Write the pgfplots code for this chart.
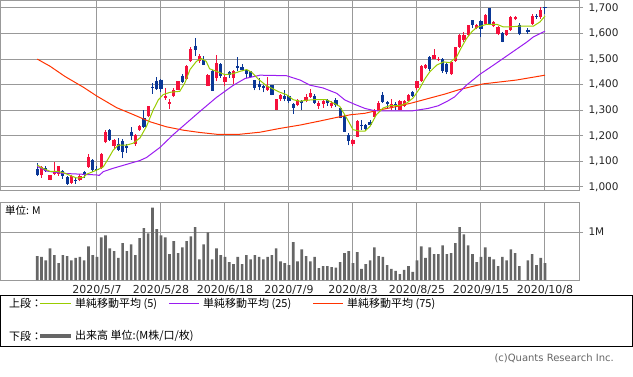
\documentclass[border=0pt]{standalone}
\usepackage{fontspec}
\setmainfont{DejaVu Sans}
\newfontfamily\cjk{Noto Sans CJK JP}
\usepackage{pgfplots}
\usepackage{pgfplotstable}
\pgfplotsset{compat=1.18}
\definecolor{gridc}{HTML}{999999}
\definecolor{upc}{HTML}{F5103C}
\definecolor{dnc}{HTML}{0A3796}
\definecolor{mafive}{HTML}{99CC00}
\definecolor{matwf}{HTML}{9A1CF0}
\definecolor{masvf}{HTML}{FF3300}
\definecolor{volc}{HTML}{666666}

\pgfplotstableread{
x o h l c
1 1045 1082 1036 1078
3 1029 1048 1026 1046
4 1052 1096 1045 1061
5 1051 1083 1042 1081
8 1016 1045 1012 1042
10 1029 1050 1022 1044
12 1078 1130 1075 1117
15 1074 1133 1072 1128
16 1175 1222 1170 1214
18 1159 1187 1150 1185
23 1169 1208 1162 1205
24 1222 1243 1218 1237
26 1276 1318 1272 1315
30 1348 1387 1341 1355
31 1326 1344 1305 1331
32 1355 1387 1350 1381
33 1381 1415 1378 1413
35 1422 1477 1420 1474
36 1491 1547 1488 1540
38 1493 1521 1485 1513
40 1396 1442 1394 1439
42 1426 1517 1413 1485
44 1409 1439 1394 1430
46 1426 1459 1404 1455
54 1378 1429 1377 1396
56 1302 1344 1300 1342
57 1342 1363 1338 1361
61 1322 1344 1315 1341
63 1335 1365 1331 1352
64 1352 1383 1348 1368
66 1318 1335 1305 1328
67 1326 1341 1309 1335
69 1315 1335 1309 1328
74 1169 1188 1159 1185
75 1196 1262 1194 1259
79 1274 1305 1272 1302
80 1302 1335 1300 1328
83 1313 1345 1302 1326
85 1302 1339 1300 1335
86 1318 1341 1313 1335
87 1338 1363 1335 1361
89 1385 1416 1380 1413
90 1414 1475 1412 1473
91 1466 1482 1463 1475
93 1501 1538 1499 1514
94 1495 1508 1492 1501
97 1440 1493 1438 1490
98 1492 1549 1490 1547
99 1548 1597 1545 1593
100 1574 1606 1567 1596
101 1593 1634 1590 1632
103 1621 1638 1616 1634
105 1638 1676 1635 1674
107 1628 1648 1625 1644
108 1599 1628 1593 1625
110 1593 1614 1591 1612
111 1612 1670 1610 1666
112 1655 1670 1651 1666
116 1638 1677 1635 1670
118 1664 1705 1657 1692
}\upt

\pgfplotstableread{
x o h l c
0 1072 1094 1042 1046
2 1073 1080 1058 1064
6 1064 1068 1032 1042
7 1038 1042 1008 1012
9 1029 1035 1012 1022
11 1059 1062 1035 1048
13 1107 1110 1060 1065
14 1072 1080 1062 1066
17 1224 1226 1180 1182
19 1169 1190 1140 1146
20 1179 1188 1112 1138
21 1161 1169 1133 1154
22 1215 1233 1185 1198
25 1270 1302 1231 1233
27 1391 1407 1365 1386
28 1415 1429 1380 1383
29 1420 1424 1370 1383
34 1435 1440 1408 1411
37 1553 1583 1513 1534
39 1495 1511 1476 1478
41 1452 1456 1375 1377
43 1481 1483 1427 1433
45 1448 1452 1426 1439
47 1472 1508 1452 1464
48 1468 1481 1452 1459
49 1456 1463 1426 1443
50 1452 1455 1426 1430
51 1417 1420 1378 1387
52 1404 1426 1378 1391
53 1396 1400 1370 1387
55 1398 1400 1358 1361
58 1354 1378 1335 1344
59 1354 1361 1328 1337
60 1326 1328 1287 1309
62 1335 1341 1300 1328
65 1357 1365 1326 1328
68 1339 1345 1318 1328
70 1339 1347 1313 1322
71 1309 1311 1268 1270
72 1279 1283 1214 1216
73 1205 1211 1163 1179
76 1244 1261 1224 1237
77 1241 1248 1224 1228
78 1253 1261 1237 1242
81 1361 1372 1328 1331
82 1331 1337 1309 1326
84 1326 1331 1302 1318
88 1370 1376 1350 1354
92 1508 1512 1453 1460
95 1499 1505 1446 1453
96 1482 1486 1440 1451
102 1651 1654 1621 1632
104 1647 1651 1586 1619
106 1700 1700 1632 1635
109 1602 1604 1565 1567
113 1635 1641 1593 1597
115 1615 1620 1599 1605
117 1670 1677 1657 1664
119 1703 1705 1677 1698
}\dnt

\pgfplotstableread{
x v
0 0.50
1 0.48
2 0.41
3 0.66
4 0.52
5 0.35
6 0.52
7 0.50
8 0.41
9 0.46
10 0.48
11 0.41
12 0.70
13 0.52
14 0.48
15 0.89
16 0.93
17 0.66
18 0.60
19 0.46
20 0.77
21 0.60
22 0.74
23 0.52
24 0.87
25 1.08
26 0.97
27 1.51
28 1.06
29 0.93
30 0.89
31 0.54
32 0.81
33 0.56
34 0.68
35 0.81
36 0.91
37 1.10
38 0.43
39 0.74
40 0.99
41 0.43
42 0.66
43 0.52
44 0.48
45 0.37
46 0.33
47 0.48
48 0.33
49 0.52
50 0.43
51 0.52
52 0.48
53 0.43
54 0.48
55 0.52
56 0.66
57 0.39
58 0.35
59 0.31
60 0.79
61 0.39
62 0.64
63 0.50
64 0.39
65 0.48
66 0.25
67 0.29
68 0.29
69 0.27
70 0.26
71 0.37
72 0.56
73 0.60
74 0.35
75 0.58
76 0.23
77 0.33
78 0.41
79 0.68
80 0.50
81 0.48
82 0.31
83 0.23
84 0.19
85 0.12
86 0.21
87 0.29
88 0.17
89 0.41
90 0.70
91 0.46
92 0.68
93 0.54
94 0.54
95 0.72
96 0.54
97 0.56
98 0.77
99 1.10
100 0.95
101 0.72
102 0.54
103 0.37
104 0.48
105 0.68
106 0.48
107 0.43
108 0.29
109 0.48
110 0.41
111 0.64
112 0.56
113 0.29
115 0.41
116 0.54
117 0.31
118 0.46
119 0.35
}\volt

\begin{document}
\begin{tikzpicture}
\path[use as bounding box] (0pt,0pt) rectangle (633pt,-376pt);

\begin{axis}[
  at={(0pt,0pt)}, anchor=north west,
  scale only axis, width=579pt, height=190pt,
  xmin=-8.73, xmax=126.97, ymin=988, ymax=1731,
  axis line style={gridc, line width=1pt},
  xtick={14,29,44,59,74,89,104,119}, xticklabels={},
  ytick={1000,1100,...,1700},
  grid=major, major grid style={gridc, line width=1pt},
  ytick pos=right, yticklabel pos=right,
  xtick style={draw=none},
  ytick style={gridc, line width=1pt},
  tick align=outside, major tick length=4pt,
  yticklabel style={font=\fontsize{10.5}{12}\selectfont, text=black!85, xshift=2pt},
  /pgf/number format/1000 sep={,},
  /pgf/number format/assume math mode=true,
]
\addplot[dnc, line width=1pt, quiver={u=0, v=\thisrow{h}-\thisrow{l}}] table[x=x, y=l] {\dnt};
\addplot[dnc, line width=3.2pt, quiver={u=0, v=\thisrow{c}-\thisrow{o}}] table[x=x, y=o] {\dnt};
\addplot[upc, line width=1pt, quiver={u=0, v=\thisrow{h}-\thisrow{l}}] table[x=x, y=l] {\upt};
\addplot[upc, line width=3.2pt, quiver={u=0, v=\thisrow{c}-\thisrow{o}}] table[x=x, y=o] {\upt};

% 75-day MA
\addplot[masvf, line width=1pt] coordinates {
(0,1500) (3,1472) (6.5,1432) (10.8,1390) (14,1355) (18.6,1310) (22.5,1283) (26.4,1255) (30.3,1235) (34.2,1222) (38.1,1213) (42,1206) (47.5,1206) (52.2,1214) (56.9,1229) (61.6,1242) (66.3,1258) (70.2,1272) (73.3,1282) (76.8,1288) (79.9,1300) (83.8,1313) (87.7,1328) (91.7,1346) (95.5,1363) (99,1381) (104.5,1403) (112.3,1418) (119,1437)
};
% 25-day MA
\addplot[matwf, line width=1pt] coordinates {
(0,1080) (2.2,1062) (6.1,1053) (13.9,1047) (14.5,1045) (15.5,1060) (17.8,1073) (21.7,1092) (24,1103) (25.6,1115) (28.8,1155) (31.9,1205) (35,1250) (38.1,1295) (42,1350) (45.9,1397) (48.7,1424) (52.2,1437) (58.4,1435) (61.6,1418) (63.9,1398) (67,1387) (70.2,1366) (72.1,1340) (74.4,1323) (76.8,1307) (79.1,1298) (87.7,1297) (91.6,1307) (93.9,1317) (96.2,1336) (97.8,1352) (100.6,1398) (103.7,1440) (106.9,1476) (110.8,1521) (114.7,1566) (116.3,1587) (119,1609)
};
% 5-day MA
\addplot[mafive, line width=1pt] coordinates {
(0,1086) (1,1075) (3,1061) (4.5,1061) (6.1,1056) (7.7,1045) (9.2,1035) (10.8,1037) (11.6,1050) (13.1,1060) (14.7,1072) (15.5,1079) (16.7,1112) (17.8,1144) (19,1164) (21,1164) (22.5,1171) (24.1,1192) (25.6,1237) (27.2,1302) (28.4,1341) (29.5,1361) (31.1,1370) (33.4,1374) (34.6,1407) (35.8,1459) (37.3,1491) (38.5,1502) (39.6,1491) (40.4,1462) (42,1452) (44,1439) (45.9,1443) (47.5,1452) (49.1,1459) (50.3,1448) (51.8,1422) (53.7,1396) (55.3,1383) (56.9,1370) (58.4,1361) (60,1341) (61.6,1335) (63.1,1339) (64.7,1341) (67.8,1341) (69.4,1328) (70.9,1315) (72.5,1270) (74,1224) (75.6,1218) (76.8,1218) (78,1237) (79.5,1283) (81.1,1309) (82.7,1318) (85,1318) (86.6,1328) (88.1,1348) (89.7,1387) (90.9,1424) (92,1450) (93.6,1476) (95.2,1489) (96.7,1486) (98.3,1509) (99.5,1548) (100.6,1580) (101.8,1606) (103,1624) (105.3,1636) (107.7,1636) (109.2,1626) (110.8,1626) (113.1,1629) (116.3,1629) (117.8,1645) (119,1668)
};
\end{axis}

\begin{axis}[
  at={(0pt,-202pt)}, anchor=north west,
  scale only axis, width=579pt, height=78pt,
  xmin=-8.73, xmax=126.97, ymin=0, ymax=1.625,
  axis line style={gridc, line width=1pt},
  xtick={14,29,44,59,74,89,104,119},
  xticklabels={2020/5/7, 2020/5/28, 2020/6/18, 2020/7/9, 2020/8/3, 2020/8/25, 2020/9/15, 2020/10/8},
  ytick={1}, yticklabels={1M},
  grid=major, major grid style={gridc, line width=1pt},
  ytick pos=right, yticklabel pos=right,
  xtick style={draw=none},
  ytick style={gridc, line width=1pt},
  tick align=outside, major tick length=4pt,
  yticklabel style={font=\fontsize{10.5}{12}\selectfont, text=black!85, xshift=2pt},
  xticklabel style={font=\fontsize{11}{12}\selectfont, text=black!85, yshift=2pt},
]
\addplot[ybar, bar width=2.6pt, fill=volc, draw=none] table[x=x, y=v] {\volt};
\node[anchor=north west, font=\cjk\fontsize{10.5}{12}\selectfont, inner sep=0pt] at (rel axis cs:0,1) [xshift=5pt, yshift=-3pt] {単位: M};
\end{axis}

% legend box
\draw[black, line width=1pt] (0.5pt,-295.5pt) rectangle (632pt,-346.5pt);
\begin{scope}[every node/.style={font=\cjk\fontsize{11}{13}\selectfont, inner sep=0pt, anchor=west}]
\node at (9pt,-303.5pt) {上段：};
\draw[mafive, line width=1pt] (40pt,-303.5pt) -- (71pt,-303.5pt);
\node at (75pt,-303.5pt) {単純移動平均 (5)};
\draw[matwf, line width=1pt] (169pt,-303.5pt) -- (199pt,-303.5pt);
\node at (203pt,-303.5pt) {単純移動平均 (25)};
\draw[masvf, line width=1pt] (313pt,-303.5pt) -- (343pt,-303.5pt);
\node at (347pt,-303.5pt) {単純移動平均 (75)};
\node at (9pt,-336pt) {下段：};
\draw[volc, line width=4pt] (40pt,-336pt) -- (71pt,-336pt);
\node at (75pt,-336pt) {出来高 単位:(M株/口/枚)};
\end{scope}
\node[anchor=east, inner sep=0pt, text=black!60, font=\fontsize{10}{12}\selectfont] at (614pt,-358.5pt) {(c)Quants Research Inc.};
\end{tikzpicture}
\end{document}
